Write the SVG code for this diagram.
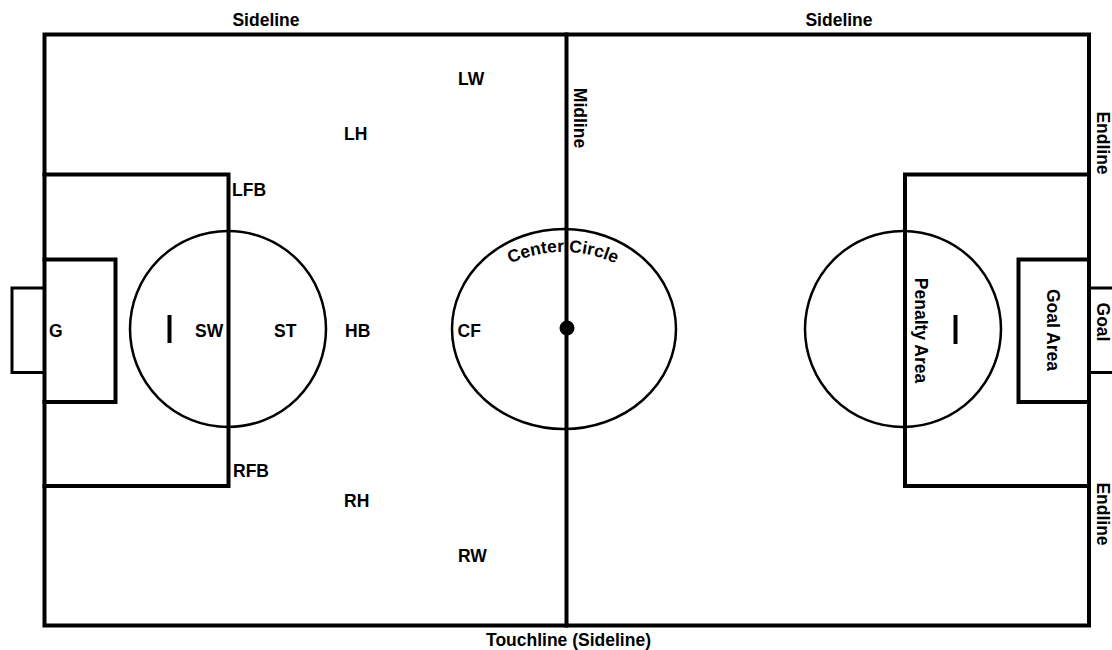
<svg xmlns="http://www.w3.org/2000/svg" width="1112" height="650" viewBox="0 0 1112 650">
<style>
  .ln{fill:none;stroke:#000;stroke-width:4;stroke-linecap:square}
  .thin{fill:none;stroke:#000;stroke-width:2.5}
  .box{fill:none;stroke:#000;stroke-width:3}
  .t{font-family:"Liberation Sans",Arial,sans-serif;font-weight:bold;font-size:17.5px;fill:#000}
  .m{text-anchor:middle}
</style>
<defs>
  <path id="ccArc" d="M 438,377 A 125 125 0 0 1 688,377"/>
</defs>
<rect width="1112" height="650" fill="#fff"/>
<g id="field">
  <rect class="ln" x="44.5" y="34.5" width="1044.5" height="591"/>
  <line class="ln" x1="566.5" y1="34.5" x2="566.5" y2="625.5"/>
</g>
<g id="left-penalty-area">
  <path class="ln" d="M44.5,174.5 H228.5 V486 H44.5"/>
</g>
<g id="left-goal-area">
  <path class="ln" d="M44.5,259.5 H115.5 V402 H44.5"/>
</g>
<g id="left-goal">
  <rect class="box" x="12" y="288" width="32.5" height="84.5"/>
</g>
<g id="left-circle">
  <circle class="thin" cx="228" cy="329" r="98"/>
  <line x1="169.5" y1="315" x2="169.5" y2="343" stroke="#000" stroke-width="4"/>
</g>
<g id="right-penalty-area">
  <path class="ln" d="M1089,174.5 H905 V486 H1089"/>
</g>
<g id="right-goal-area">
  <path class="ln" d="M1089,259.5 H1018.5 V402 H1089"/>
</g>
<g id="right-goal">
  <rect class="box" x="1089" y="288" width="40" height="84.5"/>
</g>
<g id="right-circle">
  <circle class="thin" cx="903" cy="329" r="98"/>
  <line x1="955.5" y1="315" x2="955.5" y2="344" stroke="#000" stroke-width="4"/>
</g>
<g id="center-circle">
  <ellipse class="thin" cx="564" cy="329" rx="112" ry="100"/>
  <circle cx="567" cy="328" r="7.5" fill="#000"/>
  <text class="t m"><textPath href="#ccArc" startOffset="50%">Center Circle</textPath></text>
</g>
<g id="connectors"></g>
<g id="labels">
  <text class="t m" x="266" y="26">Sideline</text>
  <text class="t m" x="839" y="26">Sideline</text>
  <text class="t m" x="568.5" y="646">Touchline (Sideline)</text>
  <text class="t m" transform="translate(573.5,118) rotate(90)">Midline</text>
  <text class="t m" transform="translate(1097,143) rotate(90)">Endline</text>
  <text class="t m" transform="translate(1097,514) rotate(90)">Endline</text>
  <text class="t m" transform="translate(1097,322) rotate(90)">Goal</text>
  <text class="t m" transform="translate(1046.5,330) rotate(90)">Goal Area</text>
  <text class="t m" transform="translate(914.5,330.5) rotate(90)">Penalty Area</text>
</g>
<g id="positions">
  <text class="t" x="458" y="85">LW</text>
  <text class="t" x="344" y="140">LH</text>
  <text class="t" x="232" y="196">LFB</text>
  <text class="t" x="49" y="337">G</text>
  <text class="t" x="195" y="337">SW</text>
  <text class="t" x="274" y="337">ST</text>
  <text class="t" x="345" y="337">HB</text>
  <text class="t" x="457.5" y="337">CF</text>
  <text class="t" x="233" y="477">RFB</text>
  <text class="t" x="344" y="507">RH</text>
  <text class="t" x="458" y="562">RW</text>
</g>
</svg>
